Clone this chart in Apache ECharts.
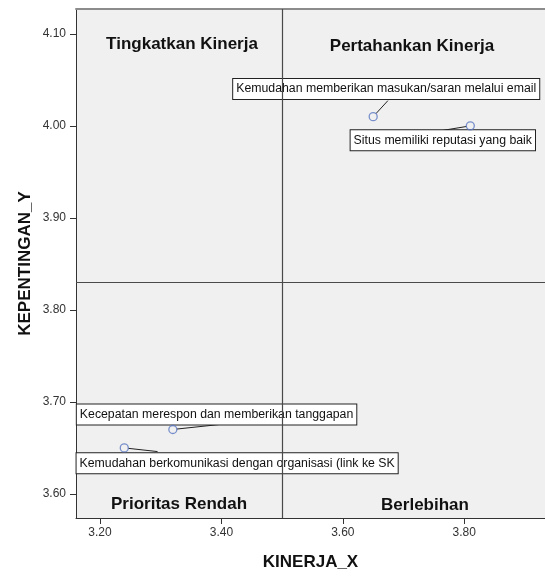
<!DOCTYPE html>
<html><head><meta charset="utf-8">
<script src="https://cdn.jsdelivr.net/npm/echarts@6/dist/echarts.min.js"></script>
<style>html,body{margin:0;padding:0;background:#fff}#c{width:545px;height:576px}</style>
</head><body><div id="c"></div>
<script>
// ---- data ----
const itemNames = [
  'Kemudahan memberikan masukan/saran melalui email',
  'Situs memiliki reputasi yang baik',
  'Kecepatan merespon dan memberikan tanggapan',
  'Kemudahan berkomunikasi dengan organisasi (link ke SK'
];
const kinerjaX = [3.65, 3.81, 3.32, 3.24];
const kepentinganY = [4.01, 4.00, 3.67, 3.65];
const xTicks = [3.2, 3.4, 3.6, 3.8];
const yTicks = [3.6, 3.7, 3.8, 3.9, 4.0, 4.1];
const quadrantNames = ['Tingkatkan Kinerja', 'Pertahankan Kinerja', 'Prioritas Rendah', 'Berlebihan'];
const xTitle = 'KINERJA_X';
const yTitle = 'KEPENTINGAN_Y';

// ---- layout (pixels, relative to each point) ----
const labelBoxOffsets = [[-140, -37.7], [-119.7, 4.4], [-96, -25], [-47.7, 5.4]];
const leaderEnds = [[14.7, -16], [-26.7, 4.4], [46.7, -5], [33.3, 3.7]];
const quadrantPos = [[182, 44], [412, 46], [179, 504], [425, 505]];

const meanX = kinerjaX.reduce((a, b) => a + b, 0) / kinerjaX.length;
const meanY = kepentinganY.reduce((a, b) => a + b, 0) / kepentinganY.length;
const points = kinerjaX.map((x, i) => [x, kepentinganY[i]]);

const FONT = '"Liberation Sans", Arial, sans-serif';
const xMin = 3.1605, xMax = 3.933, yMin = 3.5738, yMax = 4.127;

const chart = echarts.init(document.getElementById('c'), null, {renderer: 'canvas'});
chart.setOption({
  animation: false,
  backgroundColor: '#ffffff',
  grid: {left: 76, top: 9, right: 0, bottom: 54, show: true, backgroundColor: '#f0f0f0', borderWidth: 0},
  xAxis: [{
    type: 'value', min: xMin, max: xMax, position: 'bottom',
    name: xTitle, nameLocation: 'middle', nameGap: 36,
    nameTextStyle: {fontFamily: FONT, fontWeight: 'bold', fontSize: 17, color: '#111'},
    axisLine: {show: true, lineStyle: {color: '#333', width: 1}},
    axisTick: {show: true, length: 6, lineStyle: {color: '#333'}, customValues: xTicks},
    axisLabel: {customValues: xTicks, formatter: v => v.toFixed(2), fontFamily: FONT, fontSize: 12, color: '#333', margin: 9},
    splitLine: {show: false}
  }, {
    type: 'value', min: xMin, max: xMax, position: 'top',
    axisLine: {show: true, lineStyle: {color: '#8c8c8c', width: 2}},
    axisTick: {show: false}, axisLabel: {show: false}, splitLine: {show: false}
  }],
  yAxis: {
    type: 'value', min: yMin, max: yMax,
    name: yTitle, nameLocation: 'middle', nameGap: 42, nameRotate: 90, nameMoveOverlap: false,
    nameTextStyle: {fontFamily: FONT, fontWeight: 'bold', fontSize: 17, color: '#111'},
    axisLine: {show: true, lineStyle: {color: '#333', width: 1}},
    axisTick: {show: true, length: 6, lineStyle: {color: '#333'}, customValues: yTicks},
    axisLabel: {customValues: yTicks, formatter: v => v.toFixed(2), fontFamily: FONT, fontSize: 12, color: '#333', margin: 10},
    splitLine: {show: false}
  },
  graphic: quadrantNames.map((t, i) => ({
    type: 'text', x: quadrantPos[i][0], y: quadrantPos[i][1], z: 10,
    style: {text: t, font: 'bold 17px ' + FONT, fill: '#111', align: 'center', verticalAlign: 'middle'}
  })),
  series: [{
    type: 'custom', z: 1, silent: true,
    data: points,
    renderItem: function (params, api) {
      const i = params.dataIndex;
      const p = api.coord([api.value(0), api.value(1)]);
      const bo = labelBoxOffsets[i], le = leaderEnds[i];
      const ex = p[0] + le[0], ey = p[1] + le[1];
      const dx = ex - p[0], dy = ey - p[1], d = Math.hypot(dx, dy);
      const sx = p[0] + dx / d * 4, sy = p[1] + dy / d * 4;
      return {type: 'group', children: [
        {type: 'line', shape: {x1: sx, y1: sy, x2: ex, y2: ey}, style: {stroke: '#222', lineWidth: 1}},
        {type: 'text', x: p[0] + bo[0], y: p[1] + bo[1], style: {
          text: itemNames[i], font: '12.3px ' + FONT, fill: '#111', align: 'left', verticalAlign: 'top',
          backgroundColor: '#ffffff', borderColor: '#222', borderWidth: 1, padding: [3, 3, 3, 3], lineHeight: 14
        }}
      ]};
    }
  }, {
    type: 'scatter', z: 5, data: points, symbol: 'circle', symbolSize: 8,
    itemStyle: {color: 'rgba(0,0,0,0)', borderColor: '#5a77c2', borderWidth: 1.3},
    markLine: {
      silent: true, symbol: 'none', label: {show: false},
      lineStyle: {color: '#4a4a4a', width: 1.2, type: 'solid'},
      data: [{xAxis: meanX}, {yAxis: meanY}]
    }
  }]
});
</script>
</body></html>
